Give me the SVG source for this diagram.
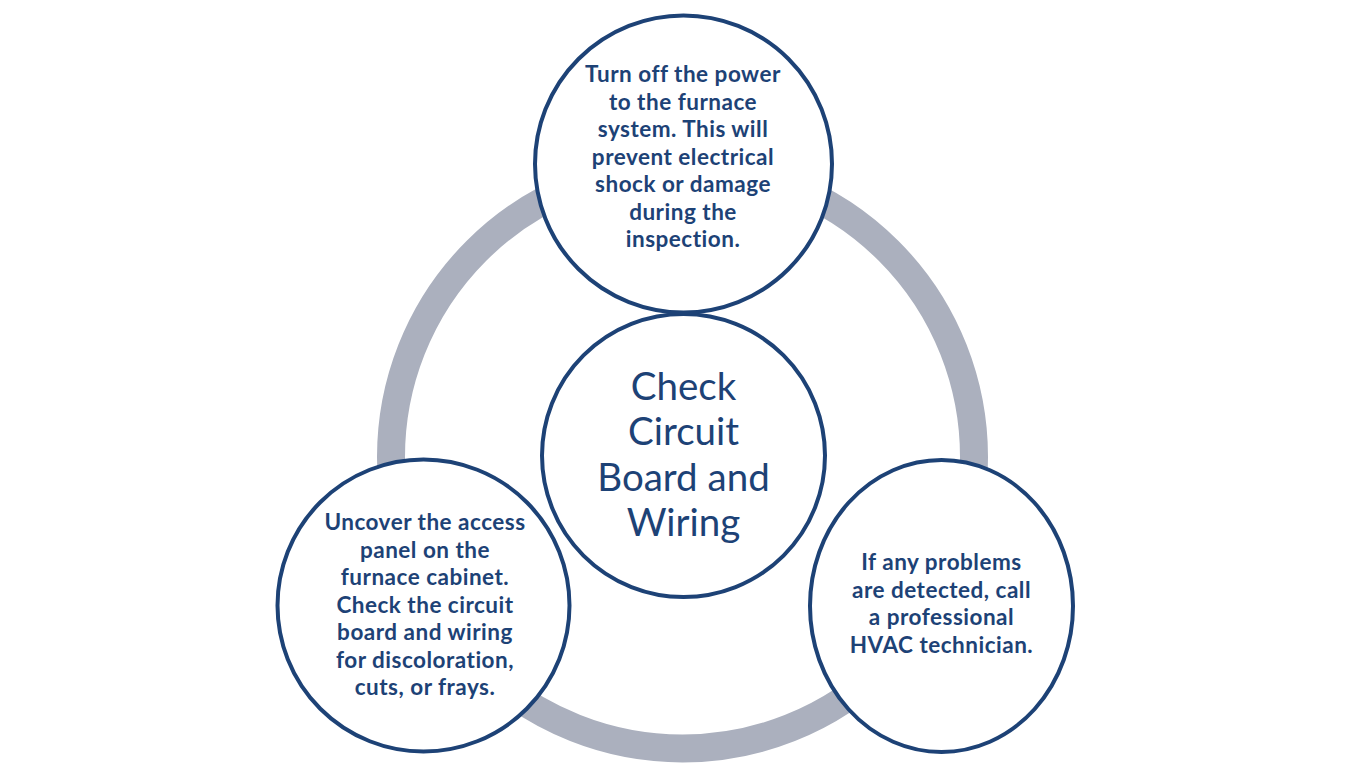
<svg xmlns="http://www.w3.org/2000/svg" width="1350" height="773" viewBox="0 0 1350 773">
<style>
.node{fill:#ffffff;stroke:#1D4276;stroke-width:4}
.t{font-family:Lato,"Open Sans",sans-serif;font-weight:bold;font-size:22.5px;letter-spacing:0.5px;fill:#1D4276;text-anchor:middle}
.c{font-family:Lato,"Open Sans",sans-serif;font-size:38.5px;fill:#1D4276;text-anchor:middle}
</style>
<rect width="1350" height="773" fill="#ffffff"/>
<g id="connectors">
<circle cx="682.5" cy="457" r="291.5" fill="none" stroke="#ABB0BE" stroke-width="28"/>
</g>
<g id="center">
<circle class="node" cx="683.5" cy="455.5" r="141.5"/>
<text class="c" x="683.5" y="400">Check</text>
<text class="c" x="683.5" y="445">Circuit</text>
<text class="c" x="683.5" y="490.5">Board and</text>
<text class="c" x="683.5" y="535.5">Wiring</text>
</g>
<g id="top">
<circle class="node" cx="683.5" cy="164" r="148.5"/>
<text class="t" x="683" y="82">Turn off the power</text>
<text class="t" x="683" y="109.5">to the furnace</text>
<text class="t" x="683" y="137">system. This will</text>
<text class="t" x="683" y="164.5">prevent electrical</text>
<text class="t" x="683" y="192">shock or damage</text>
<text class="t" x="683" y="219.5">during the</text>
<text class="t" x="683" y="247">inspection.</text>
</g>
<g id="bottom-left">
<circle class="node" cx="423.5" cy="605.5" r="146"/>
<text class="t" x="425" y="530">Uncover the access</text>
<text class="t" x="425" y="557.5">panel on the</text>
<text class="t" x="425" y="585">furnace cabinet.</text>
<text class="t" x="425" y="612.5">Check the circuit</text>
<text class="t" x="425" y="640">board and wiring</text>
<text class="t" x="425" y="667.5">for discoloration,</text>
<text class="t" x="425" y="695">cuts, or frays.</text>
</g>
<g id="bottom-right">
<ellipse class="node" cx="941.5" cy="606" rx="131.5" ry="146"/>
<text class="t" x="941.5" y="570">If any problems</text>
<text class="t" x="941.5" y="597.5">are detected, call</text>
<text class="t" x="941.5" y="625">a professional</text>
<text class="t" x="941.5" y="652.5">HVAC technician.</text>
</g>
</svg>
